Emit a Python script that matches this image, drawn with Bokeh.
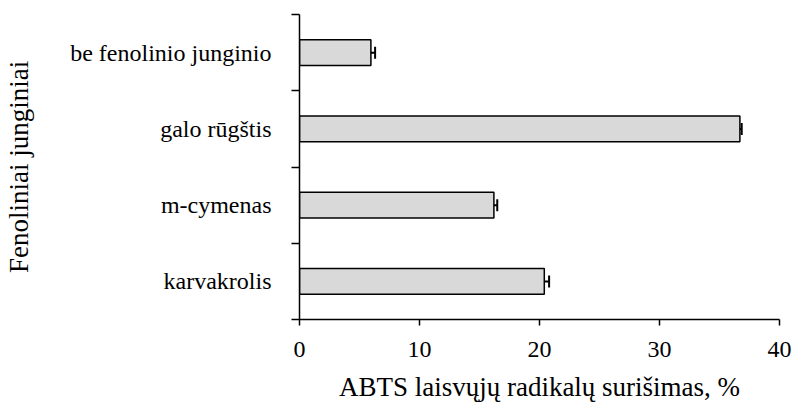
from bokeh.plotting import figure
from bokeh.models import ColumnDataSource, FixedTicker, Whisker, Range1d, TeeHead
from bokeh.embed import file_html
from bokeh.resources import INLINE

categories = ["karvakrolis", "m-cymenas", "galo rūgštis", "be fenolinio junginio"]
values = [20.4, 16.2, 36.7, 5.95]
errors = [0.4, 0.28, 0.15, 0.35]
x_ticks = [0, 10, 20, 30, 40]
x_title = "ABTS laisvųjų radikalų surišimas, %"
y_title = "Fenoliniai junginiai"

pos = list(range(len(categories)))
src = ColumnDataSource(dict(
    y=pos, v=values,
    lo=[v - e for v, e in zip(values, errors)],
    hi=[v + e for v, e in zip(values, errors)],
))

FONT = "Liberation Serif"
TICK_FONT = "'Liberation Serif', 'Times New Roman', serif"

p = figure(width=794, height=414, x_range=Range1d(0, 40), y_range=Range1d(-0.5, len(categories) - 0.5),
           output_backend="svg", toolbar_location=None,
           min_border_left=299, min_border_right=15, min_border_top=14, min_border_bottom=95)

p.hbar(y="y", right="v", left=0, height=0.34, fill_color="#d9d9d9", line_color="black",
       line_width=1.5, source=src)

w = Whisker(base="y", lower="lo", upper="hi", dimension="width", source=src,
            line_width=2, line_color="black",
            upper_head=TeeHead(size=12, line_width=2, line_color="black"),
            lower_head=TeeHead(size=12, line_width=2, line_color="black"))
p.add_layout(w)

p.xgrid.visible = False
p.ygrid.visible = False
p.outline_line_color = None
p.background_fill_color = "white"
p.border_fill_color = "white"

# x axis
xa = p.xaxis[0]
xa.ticker = FixedTicker(ticks=x_ticks, minor_ticks=[])
xa.major_tick_out = 6
xa.major_tick_in = 0
xa.minor_tick_out = 0
xa.minor_tick_in = 0
xa.axis_line_width = 1.5
xa.major_tick_line_width = 1.5
xa.axis_line_color = "black"
xa.major_tick_line_color = "black"
xa.major_label_text_font = TICK_FONT
xa.major_label_text_font_size = "24px"
xa.major_label_text_font_style = "normal"
xa.major_label_text_color = "black"
xa.major_label_standoff = 16
xa.axis_label = x_title
xa.axis_label_text_font = FONT
xa.axis_label_text_font_size = "27px"
xa.axis_label_text_font_style = "normal"
xa.axis_label_text_color = "black"
xa.axis_label_standoff = 12

# y axis
ya = p.yaxis[0]
ya.ticker = FixedTicker(ticks=pos, minor_ticks=[i - 0.5 for i in range(len(categories) + 1)])
ya.major_label_overrides = {i: c for i, c in zip(pos, categories)}
ya.major_tick_out = 0
ya.major_tick_in = 0
ya.minor_tick_out = 8
ya.minor_tick_in = 0
ya.minor_tick_line_width = 1.5
ya.minor_tick_line_color = "black"
ya.axis_line_width = 1.5
ya.axis_line_color = "black"
ya.major_label_text_font = TICK_FONT
ya.major_label_text_font_size = "24px"
ya.major_label_text_font_style = "normal"
ya.major_label_text_color = "black"
ya.major_label_standoff = 20
ya.axis_label = y_title
ya.axis_label_text_font = FONT
ya.axis_label_text_font_size = "27px"
ya.axis_label_text_font_style = "normal"
ya.axis_label_text_color = "black"
ya.axis_label_standoff = 33

open("out.html", "w").write(file_html(p, INLINE))
